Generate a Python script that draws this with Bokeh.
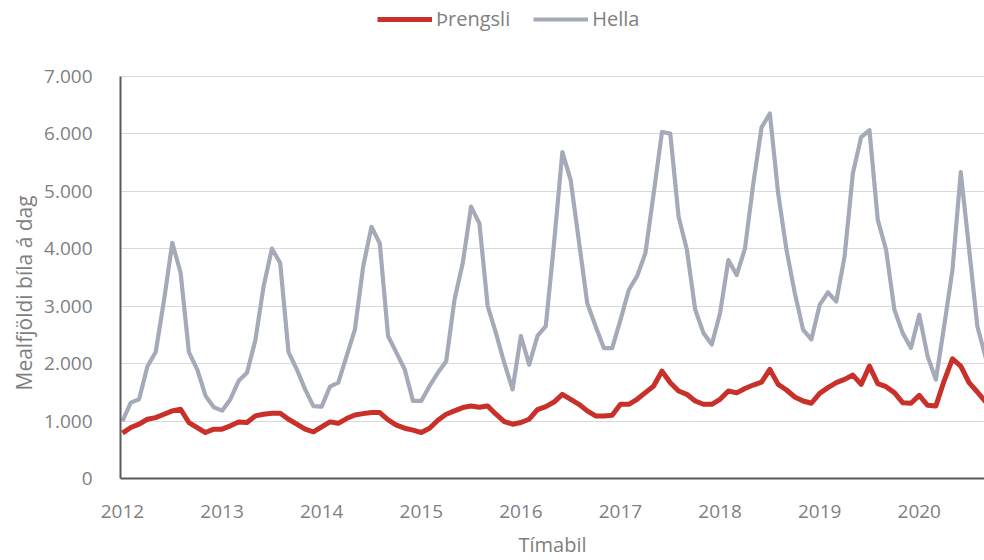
from bokeh.plotting import figure
from bokeh.models import FixedTicker, Legend, LegendItem, Range1d, Title
from bokeh.embed import file_html
from bokeh.resources import INLINE

# ---------------- data (monthly, Jan 2012 onwards) ----------------
year_labels = ["2012", "2013", "2014", "2015", "2016", "2017", "2018", "2019", "2020"]

hella = [
    1000, 1320, 1380, 1950, 2200, 3100, 4100, 3580, 2200, 1900, 1440, 1240,   # 2012
    1180, 1380, 1700, 1840, 2400, 3340, 4000, 3750, 2200, 1900, 1550, 1260,   # 2013
    1250, 1600, 1670, 2130, 2590, 3690, 4380, 4090, 2480, 2190, 1900, 1350,   # 2014
    1350, 1610, 1840, 2040, 3110, 3750, 4730, 4440, 3000, 2530, 2010, 1550,   # 2015
    2480, 1980, 2480, 2650, 4100, 5680, 5190, 4120, 3050, 2650, 2270, 2270,   # 2016
    2760, 3280, 3520, 3920, 4960, 6030, 6000, 4560, 3980, 2940, 2530, 2330,   # 2017
    2880, 3800, 3540, 4000, 5130, 6110, 6350, 4960, 3980, 3230, 2590, 2420,   # 2018
    3020, 3240, 3080, 3860, 5310, 5940, 6060, 4500, 3980, 2940, 2530, 2270,   # 2019
    2850, 2130, 1720, 2650, 3630, 5330, 4000, 2650, 2100,                     # 2020
]

threngsli = [
    790, 887, 945, 1031, 1060, 1118, 1176, 1205, 974, 887, 800, 858,          # 2012
    858, 916, 985, 974, 1089, 1118, 1135, 1135, 1031, 945, 858, 812,          # 2013
    900, 985, 960, 1043, 1106, 1129, 1147, 1147, 1020, 927, 875, 841,         # 2014
    800, 875, 1014, 1118, 1176, 1234, 1262, 1239, 1262, 1118, 991, 945,       # 2015
    974, 1031, 1200, 1250, 1330, 1465, 1378, 1291, 1176, 1089, 1089, 1100,    # 2016
    1290, 1291, 1378, 1494, 1609, 1869, 1667, 1522, 1465, 1349, 1291, 1291,   # 2017
    1378, 1522, 1490, 1565, 1626, 1678, 1898, 1638, 1540, 1418, 1349, 1309,   # 2018
    1482, 1580, 1667, 1725, 1800, 1638, 1956, 1650, 1598, 1494, 1320, 1309,   # 2019
    1447, 1274, 1262, 1700, 2083, 1956, 1667, 1505, 1332,                     # 2020
]

y_ticks = [0, 1000, 2000, 3000, 4000, 5000, 6000, 7000]
y_tick_labels = ["0", "1.000", "2.000", "3.000", "4.000", "5.000", "6.000", "7.000"]

series_names = ["Þrengsli", "Hella"]
x_title = "Tímabil"
y_title = "Mealfjöldi bíla á dag"

# ---------------- styling ----------------
RED = "#c9302a"
GREY = "#a4aab8"
TEXT = "#7f7f7f"
FONT = "Open Sans"

months = list(range(len(hella)))
year_ticks = [12 * i for i in range(len(year_labels))]
y_max = y_ticks[-1]

# frame spans the whole top of the canvas so that the legend fits inside it;
# the value axis itself is bounded to 0..7000
p = figure(
    width=984, height=560,
    output_backend="svg", toolbar_location=None,
    x_range=Range1d(-0.24, 103.86), y_range=Range1d(0, y_max * 480 / 404),
    min_border_left=120, min_border_right=0, min_border_top=0, min_border_bottom=80,
)
p.outline_line_color = None
p.background_fill_color = "white"
p.border_fill_color = "white"

r_hella = p.line(months, hella, line_color=GREY, line_width=4.2, line_join="round")
r_thr = p.line(months, threngsli, line_color=RED, line_width=5, line_join="round")

# axes
p.xaxis.ticker = FixedTicker(ticks=year_ticks)
p.xaxis.major_label_overrides = {t: l for t, l in zip(year_ticks, year_labels)}
p.yaxis.ticker = FixedTicker(ticks=y_ticks)
p.yaxis.major_label_overrides = {t: l for t, l in zip(y_ticks, y_tick_labels)}
p.yaxis.bounds = (0, y_max)

for ax in (p.xaxis[0], p.yaxis[0]):
    ax.axis_line_color = "#5a5a5a"
    ax.axis_line_width = 2
    ax.major_tick_line_color = None
    ax.minor_tick_line_color = None
    ax.major_label_text_font = FONT
    ax.major_label_text_font_size = "19px"
    ax.major_label_text_color = TEXT
    ax.axis_label_text_font = FONT
    ax.axis_label_text_font_style = "normal"
    ax.axis_label_text_color = TEXT

p.xaxis.axis_label = x_title
p.xaxis.axis_label_text_font_size = "20px"
p.xaxis.major_label_standoff = 20
p.xaxis.axis_label_standoff = 10

p.yaxis.major_label_standoff = 22

ytitle = Title(
    text=y_title, align="left", offset=88,
    text_font=FONT, text_font_size="21px", text_font_style="normal",
    text_color=TEXT, standoff=8,
)
p.add_layout(ytitle, "left")

p.xgrid.grid_line_color = None
p.ygrid.grid_line_color = "#d9d9d9"
p.ygrid.grid_line_width = 1

legend = Legend(
    items=[LegendItem(label=series_names[0], renderers=[r_thr]),
           LegendItem(label=series_names[1], renderers=[r_hella])],
    orientation="horizontal", location=(257, 446),
    glyph_width=55, glyph_height=20, label_standoff=4, spacing=23,
    padding=0, margin=0, border_line_color=None, background_fill_alpha=0,
    label_text_font=FONT, label_text_font_size="20px", label_text_color=TEXT,
    label_height=20,
)
p.add_layout(legend)

open("out.html", "w").write(file_html(p, INLINE))
